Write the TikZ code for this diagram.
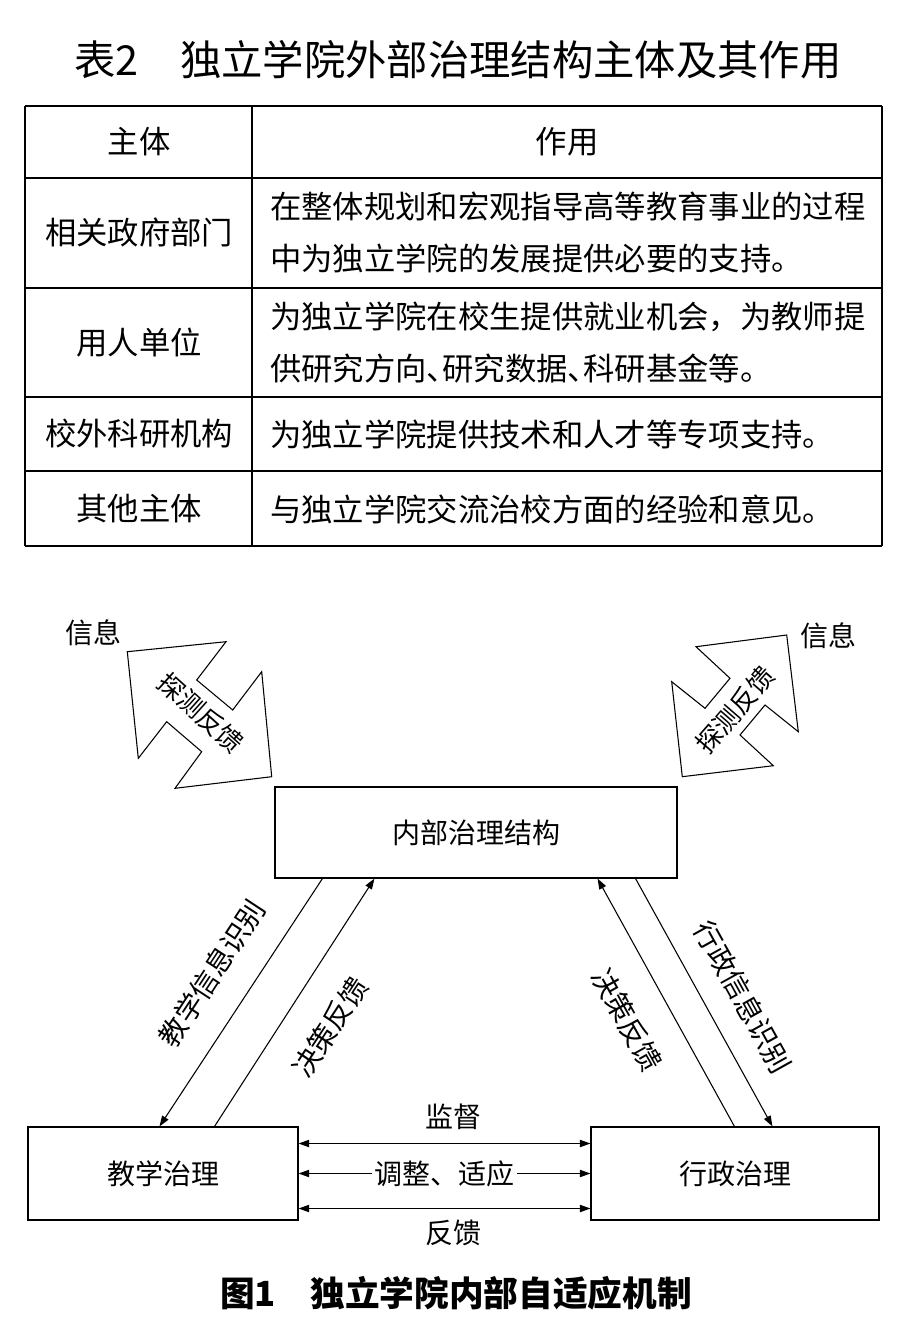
\documentclass[tikz,border=0pt]{standalone}
\usepackage{fontspec}
\setmainfont{Noto Sans CJK SC}
\usetikzlibrary{arrows.meta,calc,positioning}

\begin{document}
\begin{tikzpicture}[x=0.75pt, y=-0.75pt, >={Triangle[length=8pt,width=5.5pt]},
  box/.style={draw, line width=0.8pt, inner sep=0pt, font=\fontsize{21}{25}\selectfont},
  lab/.style={inner sep=0pt, font=\fontsize{21}{25}\selectfont},
  cell/.style={inner sep=0pt, font=\fontsize{23.5}{39}\selectfont},
  conn/.style={line width=0.8pt}]
  \useasboundingbox (0,0) rectangle (906,1338);

  % table 2
  \node[inner sep=0pt, font=\fontsize{31}{36}\selectfont] (tabtitle) at (458,60)
    {表2\hspace{1em}独立学院外部治理结构主体及其作用};
  \draw[line width=2.2pt] (25,106) -- (882,106);
  \draw[line width=2.2pt] (25,546) -- (882,546);
  \draw[line width=0.8pt] (25,106) -- (25,546) (252,106) -- (252,546) (882,106) -- (882,546);
  \foreach \y in {178,288,397,471}
    \draw[line width=0.8pt] (25,\y) -- (882,\y);

  \node[cell] (hsubj) at (139,142) {主体};
  \node[cell] (hrole) at (567,142) {作用};
  \node[cell] (gov) at (139,233) {相关政府部门};
  \node[cell, anchor=west, align=left] (govr) at (270,233)
    {在整体规划和宏观指导高等教育事业的过程\\中为独立学院的发展提供必要的支持。};
  \node[cell] (emp) at (139,343) {用人单位};
  \node[cell, anchor=west, align=left] (empr) at (270,343)
    {为独立学院在校生提供就业机会，为教师提\\供研究方向\hbox to .5em{、\hss}研究数据\hbox to .5em{、\hss}科研基金等。};
  \node[cell] (res) at (139,434) {校外科研机构};
  \node[cell, anchor=west] (resr) at (270,434) {为独立学院提供技术和人才等专项支持。};
  \node[cell] (oth) at (139,509) {其他主体};
  \node[cell, anchor=west] (othr) at (270,509) {与独立学院交流治校方面的经验和意见。};

  % figure 1
  \node[box, minimum width=301.5pt, minimum height=68.25pt] (inner) at (476,832.5) {内部治理结构};
  \node[box, minimum width=202.5pt, minimum height=69.75pt] (jx) at (163,1173.5) {教学治理};
  \node[box, minimum width=216pt, minimum height=69.75pt] (xz) at (735,1173.5) {行政治理};

  % probing arrows
  \draw[line width=0.8pt] (127.3,651.7) -- (226,641.7) -- (196.7,680) -- (232.7,710)
    -- (261.7,671.7) -- (271.7,776.7) -- (175,788.3) -- (201.7,751.7)
    -- (166.7,721.7) -- (138.3,758.3) -- cycle;
  \node[lab, rotate=-42, font=\fontsize{19.5}{24}\selectfont] (probel) at (201,713) {探测反馈};
  \node[lab] (infol) at (93,633) {信息};
  \draw[line width=0.8pt] (786.7,635) -- (798.3,731.7) -- (765,705) -- (740,735)
    -- (773.3,765.7) -- (682.3,776.7) -- (671.7,681.7) -- (705,708.3)
    -- (730,678.3) -- (696,646.7) -- cycle;
  \node[lab, rotate=49, font=\fontsize{19.5}{24}\selectfont] (prober) at (735,710) {探测反馈};
  \node[lab] (infor) at (828,636) {信息};

  % diagonal connectors
  \draw[conn,->] ($(inner.south west)+(48,0)$) -- ($(jx.north west)+(132,0)$);
  \draw[conn,->] ($(jx.north west)+(187,0)$) -- ($(inner.south west)+(100,0)$);
  \draw[conn,->] ($(xz.north west)+(144,0)$) -- ($(inner.south east)+(-80,0)$);
  \draw[conn,->] ($(inner.south east)+(-42,0)$) -- ($(xz.north west)+(182,0)$);
  \node[lab, rotate=56.7] (jxid) at (212,973) {教学信息识别};
  \node[lab, rotate=56.7] (jxfb) at (330,1027) {决策反馈};
  \node[lab, rotate=-60.9] (xzfb) at (627,1020) {决策反馈};
  \node[lab, rotate=-60.9] (xzid) at (743,997) {行政信息识别};

  % horizontal connectors
  \draw[conn,<->] ($(jx.east)+(0,-30)$) -- ($(xz.west)+(0,-30)$);
  \draw[conn,<->] (jx.east) -- node[lab, fill=white, inner xsep=2pt] (adj) {调整、适应} (xz.west);
  \draw[conn,<->] ($(jx.east)+(0,35)$) -- ($(xz.west)+(0,35)$);
  \node[lab] (sup) at (453,1117) {监督};
  \node[lab] (fb) at (453,1233) {反馈};

  \node[inner sep=0pt, font=\fontsize{26}{30}\selectfont\bfseries] (figcap) at (456,1293)
    {图1\hspace{1em}独立学院内部自适应机制};
\end{tikzpicture}
\end{document}
